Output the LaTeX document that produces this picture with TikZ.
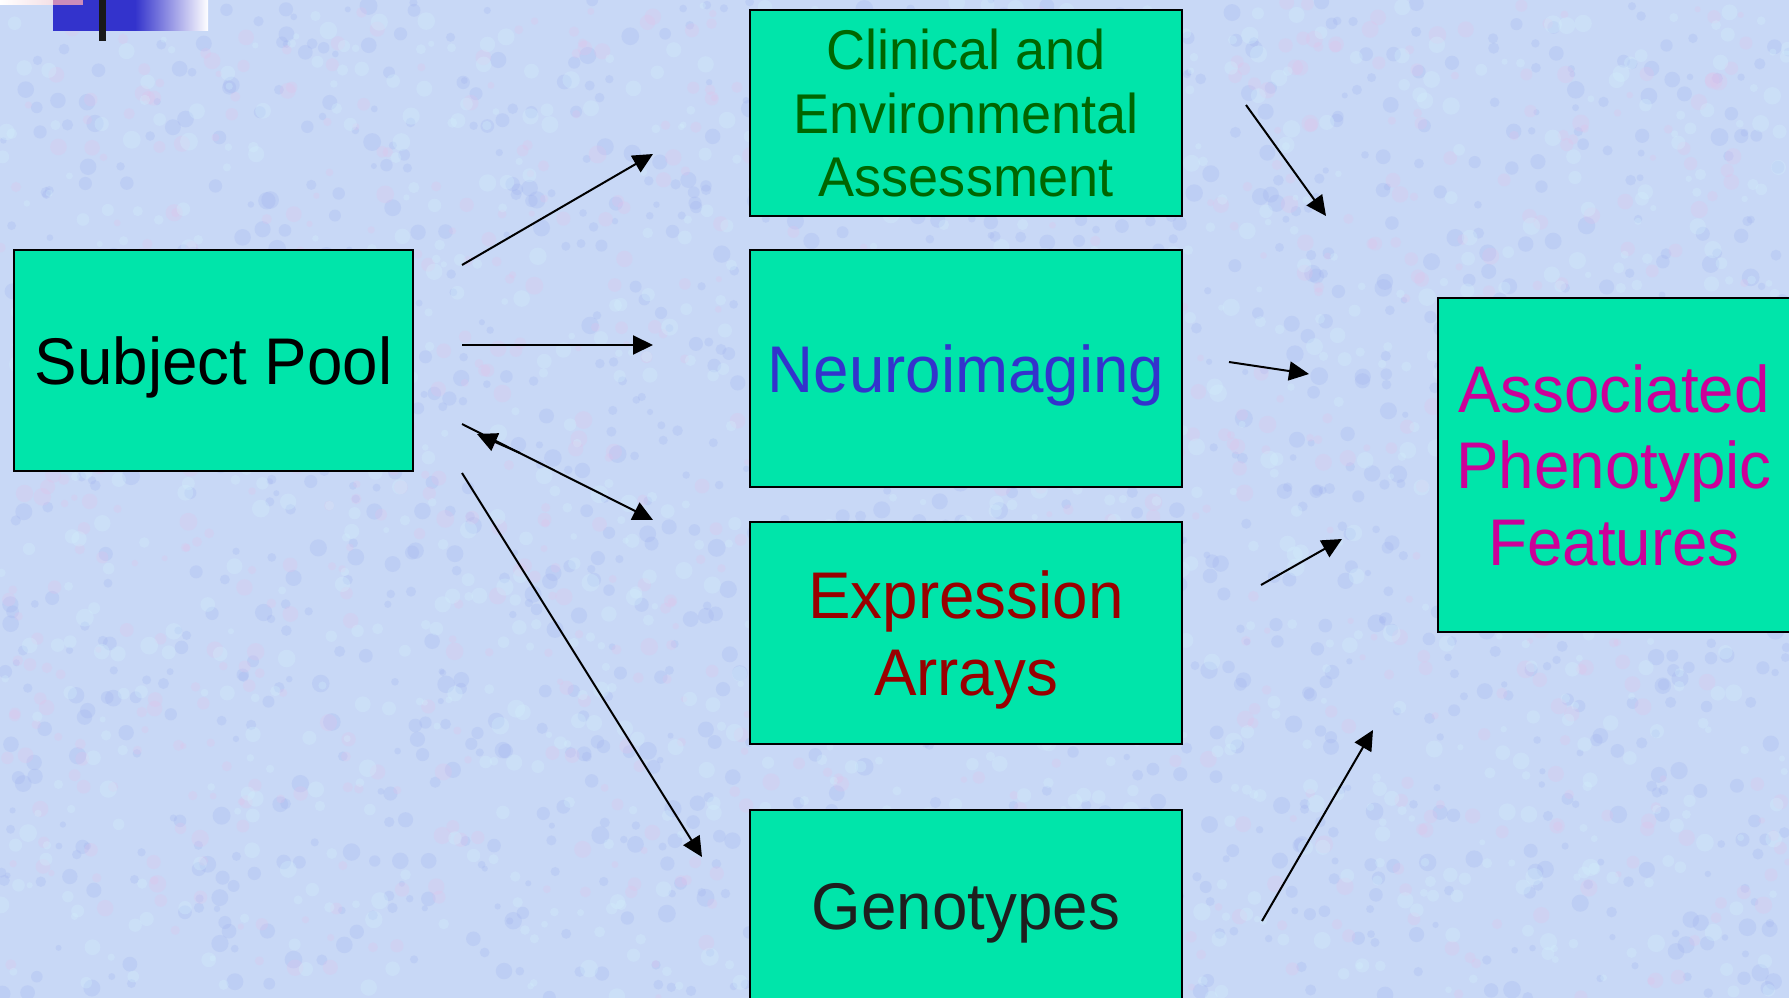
\documentclass[tikz,border=0pt]{standalone}
\usepackage{fontspec}
\setmainfont[FakeStretch=0.965]{Liberation Sans}
\usetikzlibrary{arrows.meta}

\definecolor{boxgreen}{RGB}{0,229,170}
\definecolor{bgbase}{RGB}{200,216,246}
\definecolor{bgblue}{RGB}{160,178,240}
\definecolor{bgpink}{RGB}{226,194,234}
\definecolor{bgcyan}{RGB}{210,240,252}
\definecolor{clintext}{RGB}{0,102,0}
\definecolor{neurotext}{RGB}{51,51,204}
\definecolor{exprtext}{RGB}{153,0,0}
\definecolor{genotext}{RGB}{30,30,30}
\definecolor{phenotext}{RGB}{204,0,153}
\definecolor{decoblue}{RGB}{51,51,204}
\definecolor{decopink}{RGB}{244,224,230}
\definecolor{decomauve}{RGB}{204,140,186}

\tikzset{
    block/.style={draw=black, line width=2pt, fill=boxgreen, align=center, inner sep=0pt},
    bigtext/.style={font=\fontsize{66}{76.5}\selectfont},
    >={Triangle[length=20pt,width=19pt]},
}

\begin{document}
\begin{tikzpicture}[x=1pt, y=-1pt]
        \useasboundingbox (0,0) rectangle (1789,998);
        \clip (0,0) rectangle (1789,998);
        % background texture
        \fill[bgbase] (0,0) rectangle (1789,998);
        \pgfmathsetseed{11}
        \foreach \i in {1,...,1400}{
            \pgfmathsetmacro\bx{rnd*1789}
            \pgfmathsetmacro\by{rnd*998}
            \pgfmathsetmacro\br{3+6*rnd}
            \fill[bgblue, opacity=0.25] (\bx,\by) circle (\br pt);
        }
        \foreach \i in {1,...,900}{
            \pgfmathsetmacro\bx{rnd*1789}
            \pgfmathsetmacro\by{rnd*998}
            \pgfmathsetmacro\br{3+6*rnd}
            \fill[bgpink, opacity=0.25] (\bx,\by) circle (\br pt);
        }
        \foreach \i in {1,...,1100}{
            \pgfmathsetmacro\bx{rnd*1789}
            \pgfmathsetmacro\by{rnd*998}
            \pgfmathsetmacro\br{3+6*rnd}
            \fill[bgcyan, opacity=0.3] (\bx,\by) circle (\br pt);
        }
        % corner mark
        \fill[decoblue] (53,0) rectangle (136,31);
        \shade[left color=decoblue, right color=white] (135,0) rectangle (208,31);
        \shade[left color=white, right color=decopink] (0,0) rectangle (53,5);
        \fill[decomauve] (53,0) rectangle (83,5);
        \fill[black!90] (99,0) rectangle (106,41);

        % boxes
        \node[block, bigtext, text depth=0pt, minimum width=399pt, minimum height=221pt] (pool) at (213.5,360.5) {Subject Pool};
        \node[block, font=\fontsize{56}{63.5}\selectfont, text=clintext, minimum width=432pt, minimum height=206pt] (clin) at (966,113) {Clinical and\\Environmental\\Assessment};
        \node[block, bigtext, text=neurotext, text depth=0pt, minimum width=432pt, minimum height=237pt] (neuro) at (966,368.5) {Neuroimaging};
        \node[block, bigtext, text=exprtext, minimum width=432pt, minimum height=222pt] (expr) at (966,633) {Expression\\\raisebox{0pt}[\height][0pt]{Arrays}};
        \node[block, bigtext, text=genotext, text depth=0pt, minimum width=432pt, minimum height=192pt] (geno) at (966,906) {Genotypes};
        \node[block, bigtext, text=phenotext, minimum width=352pt, minimum height=334pt] (pheno) at (1614,465) {Associated\\Phenotypic\\Features};

        % arrow ends
        \coordinate (s1) at (462,265);  \coordinate (e1) at (653,154);
        \coordinate (s2) at (462,345);  \coordinate (e2) at (653,345);
        \coordinate (s3) at (462,424);  \coordinate (e3) at (653,520);
        \coordinate (r3) at (520,453);  \coordinate (t3) at (477,434);
        \coordinate (s4) at (462,473);  \coordinate (e4) at (702,857);
        \coordinate (s5) at (1246,105); \coordinate (e5) at (1326,216);
        \coordinate (s6) at (1229,362); \coordinate (e6) at (1309,374);
        \coordinate (s7) at (1261,585); \coordinate (e7) at (1342,539);
        \coordinate (s8) at (1262,921); \coordinate (e8) at (1373,730);

        \draw[->, line width=2pt] (s1) -- (e1);
        \draw[->, line width=2pt] (s2) -- (e2);
        \draw[->, line width=2pt] (s3) -- (e3);
        \draw[->, line width=2pt] (r3) -- (t3);
        \draw[->, line width=2pt] (s4) -- (e4);
        \draw[->, line width=2pt] (s5) -- (e5);
        \draw[->, line width=2pt] (s6) -- (e6);
        \draw[->, line width=2pt] (s7) -- (e7);
        \draw[->, line width=2pt] (s8) -- (e8);
    \end{tikzpicture}
\end{document}
